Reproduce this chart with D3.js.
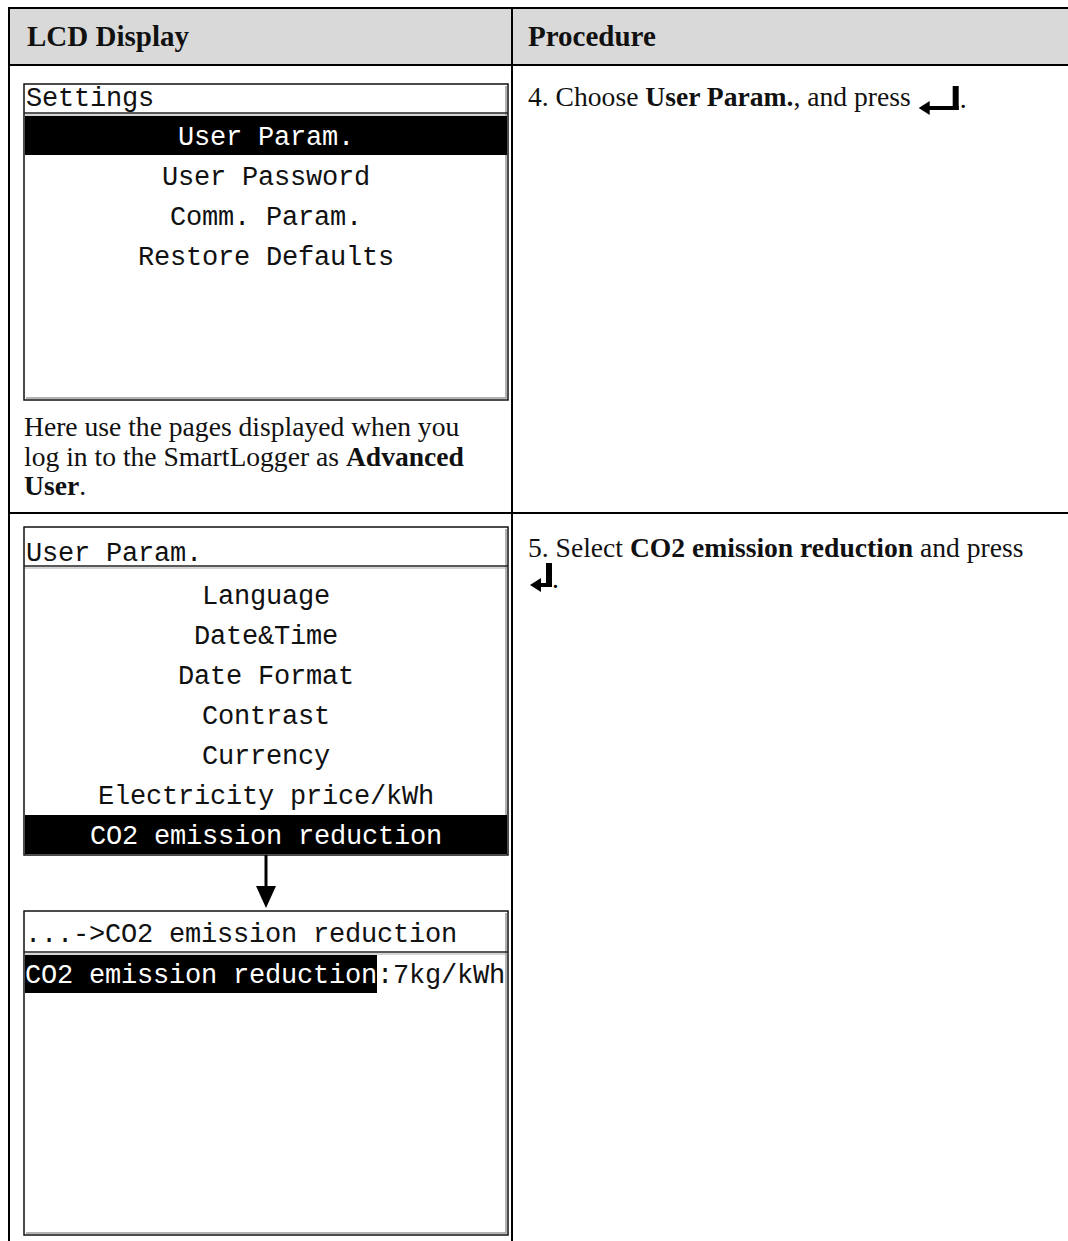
<!DOCTYPE html>
<html><head><meta charset="utf-8">
<script src="https://cdn.jsdelivr.net/npm/d3@7"></script>
<style>
html,body{margin:0;padding:0;background:#fff;}
svg{display:block;}
.lcd{font-family:"Liberation Mono","DejaVu Sans Mono",monospace;font-size:27px;letter-spacing:-0.2px;}
.serif{font-family:"Liberation Serif","Times New Roman",serif;font-size:27.6px;}
.hdr{font-family:"Liberation Serif","Times New Roman",serif;font-size:29px;font-weight:bold;}
</style></head>
<body>
<svg id="c" width="1068" height="1241"></svg>
<script>
// ---- data ----
const headers = ["LCD Display", "Procedure"];
const settingsTitle = "Settings";
const settingsItems = ["User Param.", "User Password", "Comm. Param.", "Restore Defaults"];
const settingsSelected = 0;
const userParamTitle = "User Param.";
const userParamItems = ["Language", "Date&Time", "Date Format", "Contrast", "Currency", "Electricity price/kWh", "CO2 emission reduction"];
const userParamSelected = 6;
const co2Title = "...->CO2 emission reduction";
const co2Label = "CO2 emission reduction";
const co2Value = ":7kg/kWh";
const noteLines = [
  [{t:"Here use the pages displayed when you"}],
  [{t:"log in to the SmartLogger as "},{t:"Advanced",b:true}],
  [{t:"User",b:true},{t:"."}]
];
const step4 = [{t:"4. Choose "},{t:"User Param.",b:true},{t:", and press "}];
const step5 = [{t:"5. Select "},{t:"CO2 emission reduction",b:true},{t:" and press"}];

// ---- drawing ----
const svg = d3.select("#c");
const W = 1068, H = 1241;
const colX = 512;
const boxL = 24, boxR = 508, boxC = (boxL + boxR) / 2;
const rowH = 40;

// header background
svg.append("rect").attr("x", 9).attr("y", 8).attr("width", W - 9).attr("height", 57).attr("fill", "#d9d9d9");
svg.selectAll("text.hdr").data(headers).join("text").attr("class", "hdr")
  .attr("x", (d, i) => i === 0 ? 27 : 528).attr("y", 46).attr("fill", "#111").text(d => d);

// table lines
const hLines = [8, 65, 513];
svg.selectAll("line.h").data(hLines).join("line").attr("class", "h")
  .attr("x1", 8).attr("x2", W).attr("y1", d => d).attr("y2", d => d)
  .attr("stroke", "#000").attr("stroke-width", 2);
svg.selectAll("line.v").data([9, colX]).join("line").attr("class", "v")
  .attr("x1", d => d).attr("x2", d => d).attr("y1", 7).attr("y2", H)
  .attr("stroke", "#000").attr("stroke-width", 2);

function lcdBox(top, sep, bottom) {
  const g = svg.append("g");
  g.append("rect").attr("x", boxL).attr("y", top).attr("width", boxR - boxL).attr("height", bottom - top)
    .attr("fill", "#fff").attr("stroke", "#111").attr("stroke-width", 1.5);
  g.append("path").attr("d", `M${boxR - 2},${top + 2}V${bottom - 2}H${boxL + 2}`)
    .attr("fill", "none").attr("stroke", "#999").attr("stroke-width", 1.5);
  g.append("line").attr("x1", boxL).attr("x2", boxR).attr("y1", sep).attr("y2", sep)
    .attr("stroke", "#222").attr("stroke-width", 1.5);
  g.append("line").attr("x1", boxL + 1).attr("x2", boxR - 1).attr("y1", sep + 2).attr("y2", sep + 2)
    .attr("stroke", "#aaa").attr("stroke-width", 1);
  return g;
}

function menu(g, items, selected, rowTop) {
  const y = d3.scaleBand().domain(d3.range(items.length)).range([rowTop, rowTop + items.length * rowH]).padding(0);
  g.selectAll("rect.sel").data(items.filter((d, i) => i === selected)).join("rect").attr("class", "sel")
    .attr("x", boxL + 1).attr("width", boxR - boxL - 2)
    .attr("y", y(selected)).attr("height", y.bandwidth() - 1).attr("fill", "#000");
  g.selectAll("text.item").data(items).join("text").attr("class", "lcd item")
    .attr("x", boxC).attr("y", (d, i) => y(i) + 29).attr("text-anchor", "middle")
    .attr("fill", (d, i) => i === selected ? "#fff" : "#111").text(d => d);
}

// Box 1 : Settings
const b1 = lcdBox(84, 113, 400);
b1.append("text").attr("class", "lcd").attr("x", boxL + 2).attr("y", 106).attr("fill", "#111").text(settingsTitle);
menu(b1, settingsItems, settingsSelected, 116);

function richText(sel, parts, px, py) {
  const t = sel.append("text").attr("class", "serif").attr("x", px).attr("y", py).attr("fill", "#111");
  parts.forEach(p => t.append("tspan").attr("font-weight", p.b ? "bold" : null).text(p.t));
  return t;
}
noteLines.forEach((ln, i) => richText(svg, ln, 24, 436 + i * 29.5));

// Box 2 : User Param.
const b2 = lcdBox(527, 566, 855);
b2.append("text").attr("class", "lcd").attr("x", boxL + 2).attr("y", 561).attr("fill", "#111").text(userParamTitle);
menu(b2, userParamItems, userParamSelected, 815 - userParamSelected * rowH);

// arrow
svg.append("line").attr("x1", boxC).attr("x2", boxC).attr("y1", 855).attr("y2", 888).attr("stroke", "#000").attr("stroke-width", 3);
svg.append("path").attr("d", `M${boxC - 10},886L${boxC + 10},886L${boxC},908Z`).attr("fill", "#000");

// Box 3 : CO2 emission reduction
const b3 = lcdBox(911, 952, 1235);
b3.append("text").attr("class", "lcd").attr("x", boxL + 1).attr("y", 942).attr("fill", "#111").text(co2Title);
const valText = b3.append("text").attr("class", "lcd").attr("x", boxL + 1).attr("y", 983);
valText.append("tspan").attr("fill", "#fff").text(co2Label);
valText.append("tspan").attr("fill", "#111").text(co2Value);
const hlW = co2Label.length * 16;
b3.append("rect").attr("x", boxL + 1).attr("y", 955).attr("width", hlW).attr("height", 38).attr("fill", "#000");
valText.raise();

// Enter key symbol
function enterKey(px, py, w, h) {
  const g = svg.append("g").attr("transform", `translate(${px},${py})`);
  g.append("rect").attr("x", w - 6).attr("y", 0).attr("width", 6).attr("height", h).attr("fill", "#000");
  g.append("rect").attr("x", 9).attr("y", h - 4).attr("width", w - 9).attr("height", 4).attr("fill", "#000");
  g.append("path").attr("d", `M0,${h - 2}L11,${h - 9}L11,${h + 5}Z`).attr("fill", "#000");
  return g;
}
const s4 = richText(svg, step4, 528, 106);
const s4w = s4.node().getComputedTextLength();
enterKey(528 + s4w + 8, 86, 40, 24);
svg.append("text").attr("class", "serif").attr("x", 528 + s4w + 49).attr("y", 108).text(".");

richText(svg, step5, 528, 557);
enterKey(530, 563, 22, 24);
svg.append("text").attr("class", "serif").attr("x", 552).attr("y", 588).text(".");
</script>
</body></html>
